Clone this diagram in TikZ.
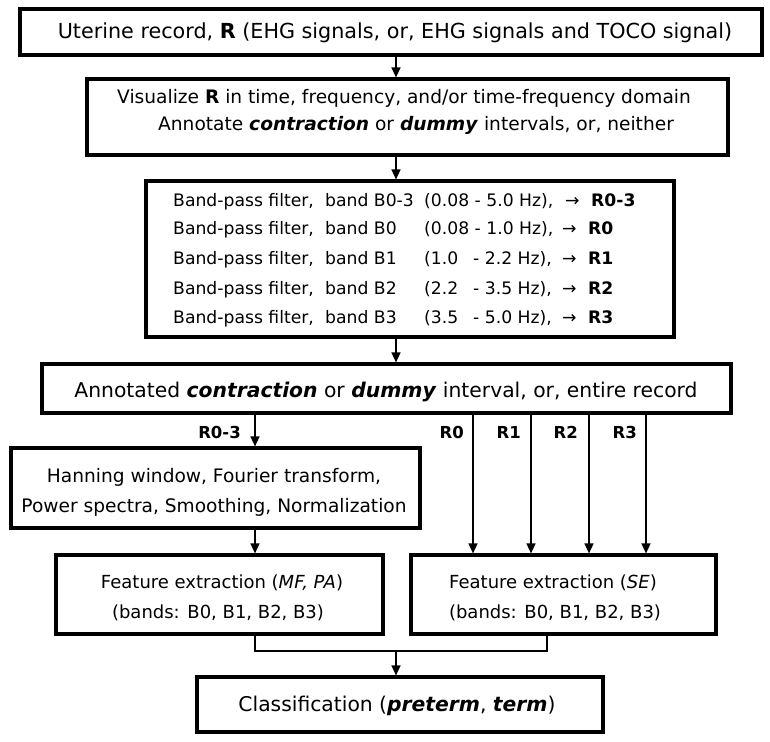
\documentclass[tikz,border=0pt]{standalone}
\usepackage{fontspec}
\setmainfont{DejaVu Sans}
\usetikzlibrary{arrows.meta}
\tikzset{
  box/.style={draw=black, line width=3.2pt, inner sep=0pt},
  txt/.style={inner sep=0pt, anchor=base, font=\fontsize{18}{20}\selectfont},
  big/.style={font=\fontsize{20.3}{22}\selectfont},
  mid/.style={font=\fontsize{18.6}{20}\selectfont},
  band/.style={inner sep=0pt, anchor=base west, font=\fontsize{17.2}{20}\selectfont},
  lbl/.style={inner sep=0pt, anchor=base east, font=\fontsize{16.5}{20}\selectfont\bfseries},
  conn/.style={line width=1.5pt},
  arr/.style={conn, -{Triangle[length=10pt,width=9pt]}}
}
\newcommand{\bi}[1]{\textbf{\textit{#1}}}
% #1 band name, #2 frequency part, #3 arrow column width, #4 output name
\newcommand{\bandline}[4]{\makebox[152pt][l]{Band-pass filter,}\makebox[99pt][l]{band #1}#2\makebox[#3][l]{→}\textbf{#4}}
\begin{document}
\begin{tikzpicture}[x=1pt,y=-1pt]
\useasboundingbox (0,0) rectangle (770,741);
% boxes
\node[box, minimum width=742pt, minimum height=46pt] (b1) at (391,32) {};
\node[box, minimum width=641pt, minimum height=76pt] (b2) at (407.5,117) {};
\node[box, minimum width=528pt, minimum height=156pt] (b3) at (410,259) {};
\node[box, minimum width=689pt, minimum height=49pt] (b4) at (386.5,388.5) {};
\node[box, minimum width=409pt, minimum height=80pt] (b5) at (215.5,488) {};
\node[box, minimum width=327pt, minimum height=79pt] (b6) at (219.5,594.5) {};
\node[box, minimum width=305pt, minimum height=79pt] (b7) at (563.5,594.5) {};
\node[box, minimum width=406pt, minimum height=55pt] (b8) at (400,704.5) {};
% texts
\node[txt, font=\fontsize{20.7}{22}\selectfont] (t1) at (395,39) {Uterine record, \textbf{R} (EHG signals, or, EHG signals and TOCO signal)};
\node[txt, mid, anchor=base west] (t2a) at (117,103) {Visualize \textbf{R} in time, frequency, and/or time-frequency domain};
\node[txt, mid, anchor=base west] (t2b) at (158,131) {Annotate \bi{contraction} or \bi{dummy} intervals, or, neither};
\node[band] (l1) at (173,206) {\bandline{B0-3}{\makebox[141pt][l]{(0.08 - 5.0 Hz),}}{26pt}{R0-3}};
\node[band] (l2) at (173,234) {\bandline{B0}{\makebox[138pt][l]{(0.08 - 1.0 Hz),}}{26pt}{R0}};
\node[band] (l3) at (173,264) {\bandline{B1}{\makebox[49pt][l]{(1.0}\makebox[89pt][l]{- 2.2 Hz),}}{26pt}{R1}};
\node[band] (l4) at (173,294) {\bandline{B2}{\makebox[49pt][l]{(2.2}\makebox[89pt][l]{- 3.5 Hz),}}{26pt}{R2}};
\node[band] (l5) at (173,323) {\bandline{B3}{\makebox[49pt][l]{(3.5}\makebox[89pt][l]{- 5.0 Hz),}}{26pt}{R3}};
\node[txt, big] (t4) at (386,397) {Annotated \bi{contraction} or \bi{dummy} interval, or, entire record};
\node[txt, mid] (t5a) at (214,482) {Hanning window, Fourier transform,};
\node[txt, mid] (t5b) at (214,512) {Power spectra, Smoothing, Normalization};
\node[txt] (t6a) at (222,588) {Feature extraction (\textit{MF, PA})};
\node[txt] (t6b) at (218,618) {(bands: B0, B1, B2, B3)};
\node[txt] (t7a) at (553,588) {Feature extraction (\textit{SE})};
\node[txt] (t7b) at (555,618) {(bands: B0, B1, B2, B3)};
\node[txt, big] (t8) at (397,711) {Classification (\bi{preterm}, \bi{term})};
% connector guide coordinates
\coordinate (cm) at (396,0);
\coordinate (cl) at (255,0);
\coordinate (cr) at (547,0);
\coordinate (r0) at (473,0);
\coordinate (r1) at (531,0);
\coordinate (r2) at (589,0);
\coordinate (r3) at (646,0);
\coordinate (jn) at (396,651);
% connectors
\draw[arr] (b1.south -| cm) -- (b2.north -| cm);
\draw[arr] (b2.south -| cm) -- (b3.north -| cm);
\draw[arr] (b3.south -| cm) -- (b4.north -| cm);
\draw[arr] (b4.south -| cl) -- (b5.north -| cl);
\draw[arr] (b5.south -| cl) -- (b6.north -| cl);
\draw[arr] (b4.south -| r0) -- (b7.north -| r0);
\draw[arr] (b4.south -| r1) -- (b7.north -| r1);
\draw[arr] (b4.south -| r2) -- (b7.north -| r2);
\draw[arr] (b4.south -| r3) -- (b7.north -| r3);
\draw[conn] (b6.south -| cl) |- (jn) -| (b7.south -| cr);
\draw[arr] (jn) -- (b8.north -| jn);
% labels
\node[lbl] (lr03) at (241,438) {R0-3};
\node[lbl] (lr0) at (464,438) {R0};
\node[lbl] (lr1) at (521,438) {R1};
\node[lbl] (lr2) at (578,438) {R2};
\node[lbl] (lr3) at (637,438) {R3};
\end{tikzpicture}
\end{document}
